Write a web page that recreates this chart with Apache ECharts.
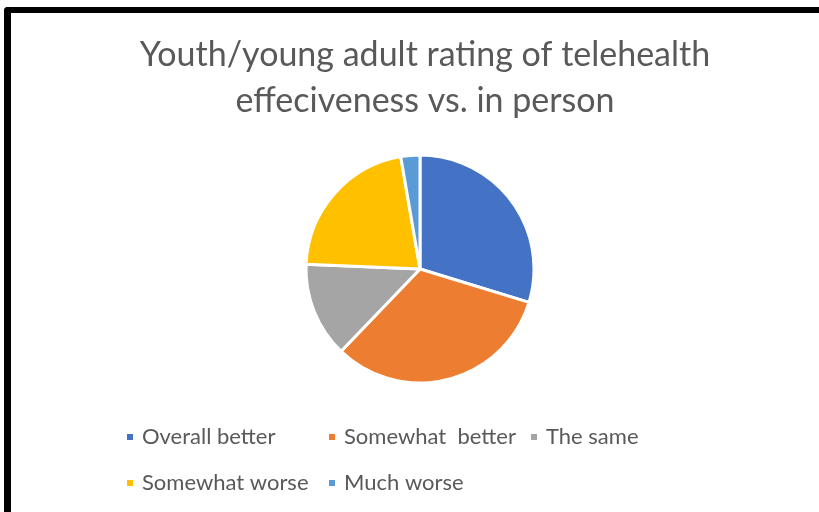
<!DOCTYPE html>
<html>
<head>
<meta charset="utf-8">
<script src="https://cdn.jsdelivr.net/npm/echarts@6/dist/echarts.min.js"></script>
<style>
  html, body { margin: 0; padding: 0; background: #fff; overflow: hidden; }
  .frame {
    position: absolute; left: 4px; top: 7px; width: 900px; height: 600px;
    border-left: 7px solid #000; border-top: 6px solid #000;
    border-top-left-radius: 4px;
  }
  #chart { position: absolute; left: 0; top: 0; width: 819px; height: 512px; }
</style>
</head>
<body>
<div class="frame"></div>
<div id="chart"></div>
<script>
const titleLines = ['Youth/young adult rating of telehealth', 'effeciveness vs. in person']
const categories = ['Overall better', 'Somewhat  better', 'The same', 'Somewhat worse', 'Much worse']
const counts = [11, 12, 5, 8, 1]
const colors = ['#4472C4', '#ED7D31', '#A5A5A5', '#FFC000', '#5B9BD5']

const chart = echarts.init(document.getElementById('chart'))

chart.setOption({
  backgroundColor: 'transparent',
  animation: false,
  color: colors,
  title: {
    text: titleLines.join('\n'),
    left: 420,
    top: 27,
    textAlign: 'center',
    textStyle: {
      fontFamily: 'Lato',
      fontWeight: 'normal',
      fontSize: 34,
      lineHeight: 46,
      color: '#595959'
    }
  },
  legend: {
    data: categories,
    left: 120,
    top: 414,
    width: 610,
    orient: 'horizontal',
    itemWidth: 8,
    itemHeight: 8,
    itemGap: 10,
    icon: 'rect',
    textStyle: {
      fontFamily: 'Lato',
      fontSize: 22,
      color: '#595959',
      width: 175,
      lineHeight: 36,
      overflow: 'none',
      padding: [0, 0, 0, 3]
    }
  },
  series: [
    {
      type: 'pie',
      center: [420, 269],
      radius: 114,
      startAngle: 90,
      clockwise: true,
      label: { show: false },
      labelLine: { show: false },
      emphasis: { disabled: true },
      itemStyle: { borderColor: '#fff', borderWidth: 3 },
      data: categories.map((name, i) => ({ name, value: counts[i] }))
    }
  ]
})
</script>
</body>
</html>
